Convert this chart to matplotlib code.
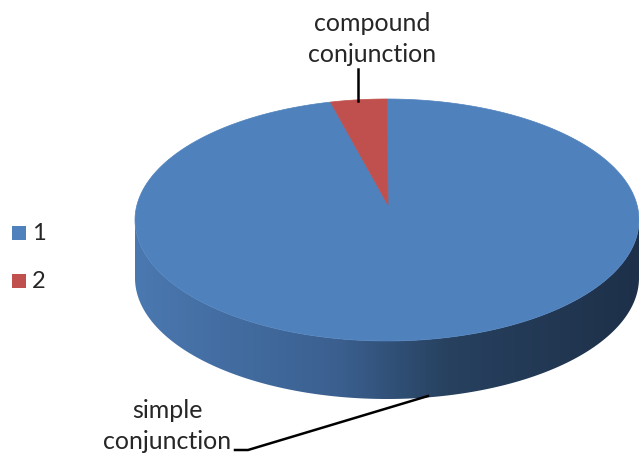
import numpy as np
import matplotlib
matplotlib.use('Agg')
import matplotlib.pyplot as plt
from matplotlib.patches import Polygon, Rectangle
from matplotlib.colors import LinearSegmentedColormap

plt.rcParams['font.family'] = ['Lato', 'DejaVu Sans']

# data
labels = ['simple\nconjunction', 'compound\nconjunction']
legend_labels = ['1', '2']
shares = [96.4, 3.6]
colors = ['#4f81bd', '#c0504d']

# layout of the 3d pie in pixel space
cx, cy = 387, 221
rx, ry = 252, 121
depth = 58
apex = (388, 206)

fig = plt.figure(figsize=(6.39, 4.56), dpi=100)
ax = fig.add_axes([0, 0, 1, 1])
ax.set_xlim(0, 639)
ax.set_ylim(456, 0)
ax.axis('off')


def arc(t1, t2, dy=0, n=200):
    t = np.radians(np.linspace(t1, t2, n))
    return np.column_stack([cx + rx * np.cos(t), cy + dy - ry * np.sin(t)])


side_cmap = LinearSegmentedColormap.from_list(
    'side', [(0, '#4a78b0'), (0.4, '#3b6090'), (0.62, '#27415f'), (1, '#1e3049')])

fracs = np.array(shares) / sum(shares)
ends = 90 - 360 * np.cumsum(fracs)
starts = np.concatenate([[90], ends[:-1]])

# sides (front half only, angles 180..360)
for s, e in zip(starts, ends):
    lo, hi = e % 360, s % 360
    if hi <= lo:
        hi += 360
    a, b = max(lo, 180), min(hi, 360)
    if b <= a:
        continue
    pts = np.vstack([arc(a, b), arc(b, a, dy=depth)])
    poly = Polygon(pts, closed=True, facecolor='none', edgecolor='none')
    ax.add_patch(poly)
    grad = np.linspace(0, 1, 256).reshape(1, -1)
    im = ax.imshow(grad, cmap=side_cmap, aspect='auto',
                   extent=(cx - rx, cx + rx, cy + ry + depth, cy - 5),
                   zorder=1)
    im.set_clip_path(poly)

# top faces
for s, e, c in zip(starts, ends, colors):
    pts = np.vstack([[apex], arc(s, e)])
    ax.add_patch(Polygon(pts, closed=True, facecolor=c, edgecolor=c,
                         linewidth=0.5, zorder=2))

# data labels with leader lines
ax.text(167, 426, labels[0], ha='center', va='center', fontsize=18,
        color='#262626', linespacing=1.4)
ax.plot([235, 248, 428], [451, 451, 397], color='black', lw=1.8, zorder=3)

ax.text(372, 39, labels[1], ha='center', va='center', fontsize=18,
        color='#262626', linespacing=1.4)
ax.plot([358, 358], [70, 102], color='black', lw=1.8, zorder=3)

# legend
for i, (lab, c) in enumerate(zip(legend_labels, colors)):
    y = 234 + i * 48
    ax.add_patch(Rectangle((12, y - 7), 14, 14, facecolor=c, edgecolor='none'))
    ax.text(32, y, lab, ha='left', va='center', fontsize=17, color='#262626')

fig.savefig('out.png', dpi=100)
